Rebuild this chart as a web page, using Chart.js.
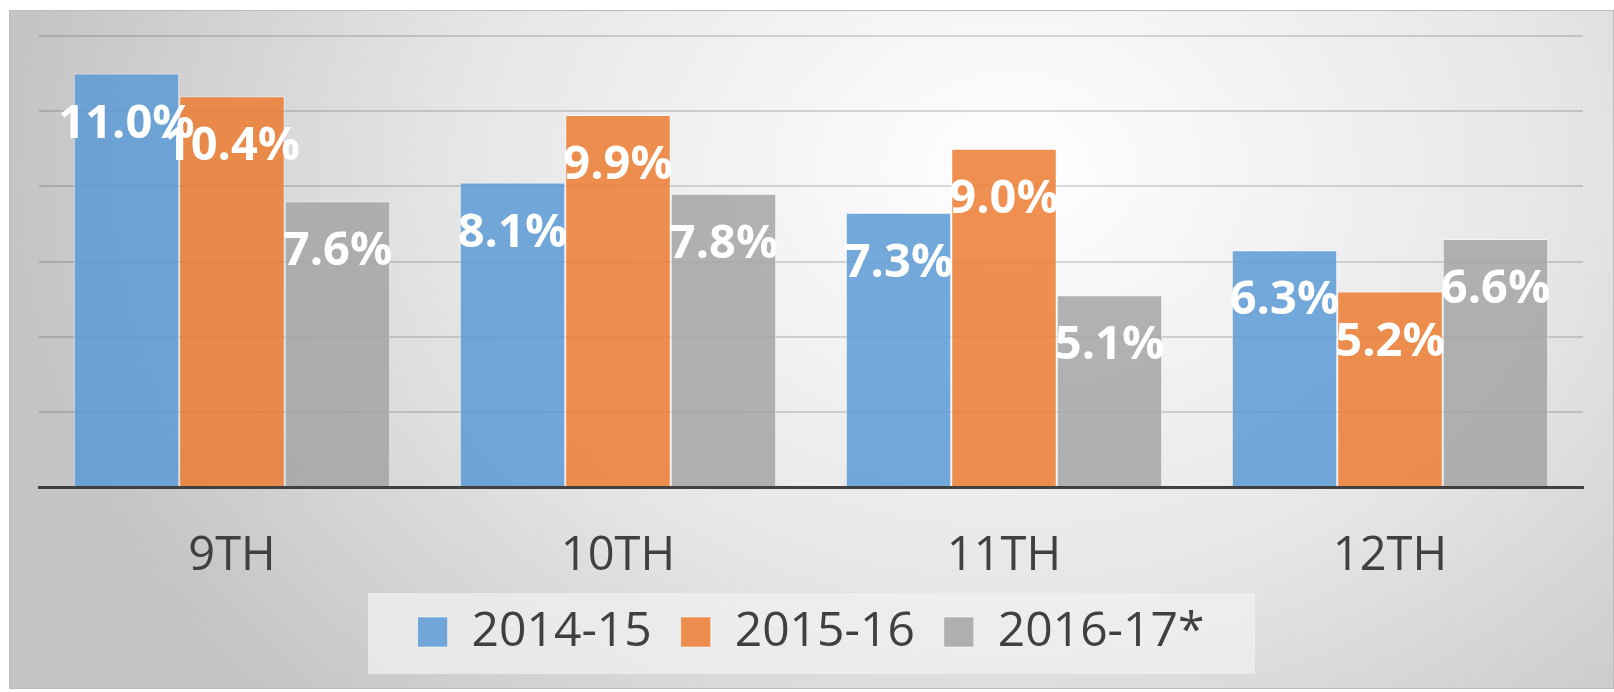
<!DOCTYPE html>
<html>
<head>
<meta charset="utf-8">
<title>Grados</title>
<script src="https://cdn.jsdelivr.net/npm/chart.js@4.4.1/dist/chart.umd.min.js"></script>
<style>
  body { margin: 0; background: #ffffff; }
  #wrap { position: relative; width: 1614px; height: 692px; }
  #fondo {
    position: absolute; left: 9px; top: 10px; width: 1603px; height: 677px;
    border: 1px solid #bcbcbc;
    background: radial-gradient(ellipse 1000px 780px at 1000px 160px, #ffffff 0%, #e6e6e6 55%, #c4c4c4 100%);
  }
  #myChart { position: absolute; left: 0; top: 0; }
</style>
</head>
<body>
<div id="wrap">
  <div id="fondo"></div>
  <canvas id="myChart" width="1614" height="692"></canvas>
</div>
<script>
const grados = ["9TH", "10TH", "11TH", "12TH"];
const periodos = ["2014-15", "2015-16", "2016-17*"];
const valores2014 = [11.0, 8.1, 7.3, 6.3];
const valores2015 = [10.4, 9.9, 9.0, 5.2];
const valores2016 = [7.6, 7.8, 5.1, 6.6];
const ticksY = [0, 2, 4, 6, 8, 10, 12];

document.addEventListener("DOMContentLoaded", () => {
  const chartDom = document.getElementById("myChart");
  const fuente = "'Open Sans', 'Noto Sans', sans-serif";

  // etiquetas blancas dentro de cada barra
  const etiquetasBarras = {
    id: "etiquetasBarras",
    afterDraw(chart) {
      const ctx = chart.ctx;
      ctx.save();
      ctx.font = "bold 47px " + fuente;
      ctx.fillStyle = "#ffffff";
      ctx.textAlign = "center";
      ctx.textBaseline = "alphabetic";
      chart.data.datasets.forEach((ds, i) => {
        chart.getDatasetMeta(i).data.forEach((bar, j) => {
          ctx.fillText(ds.data[j].toFixed(1) + "%", bar.x, bar.y + 64);
        });
      });
      ctx.restore();
    },
  };

  // caja clara detras de la leyenda
  const fondoLeyenda = {
    id: "fondoLeyenda",
    beforeDraw(chart) {
      const cajas = chart.legend.legendHitBoxes;
      if (!cajas || !cajas.length) return;
      const medio = cajas[0].top + cajas[0].height / 2;
      const centro = (chart.chartArea.left + chart.chartArea.right) / 2;
      const ctx = chart.ctx;
      ctx.save();
      ctx.fillStyle = "rgba(240, 240, 240, 0.75)";
      ctx.fillRect(centro - 443, medio - 39, 887, 81);
      ctx.restore();
    },
  };

  const datasets = [
    { label: periodos[0], data: valores2014, backgroundColor: "rgba(91, 155, 213, 0.85)" },
    { label: periodos[1], data: valores2015, backgroundColor: "rgba(237, 125, 49, 0.85)" },
    { label: periodos[2], data: valores2016, backgroundColor: "rgba(165, 165, 165, 0.85)" },
  ].map((d) => ({
    ...d,
    borderColor: "rgba(255, 255, 255, 0.55)",
    borderWidth: 1,
    barPercentage: 1.0,
    categoryPercentage: 0.82,
  }));

  new Chart(chartDom, {
    type: "bar",
    data: { labels: grados, datasets: datasets },
    plugins: [fondoLeyenda, etiquetasBarras],
    options: {
      responsive: false,
      animation: false,
      layout: { padding: { left: 39, right: 31, top: 36, bottom: 26 } },
      plugins: {
        tooltip: { enabled: false },
        legend: {
          position: "bottom",
          labels: {
            font: { family: fuente, size: 48 },
            color: "#404040",
            boxWidth: 30,
            boxHeight: 30,
            padding: 29,
          },
        },
      },
      scales: {
        x: {
          z: 1,
          grid: { display: false, drawTicks: false },
          border: { display: true, color: "#404040", width: 3 },
          ticks: { font: { family: fuente, size: 47 }, color: "#404040", padding: 41 },
          afterFit: (scale) => {
            scale.height = 92;
          },
        },
        y: {
          z: 1,
          min: ticksY[0],
          max: ticksY[ticksY.length - 1],
          afterBuildTicks: (scale) => {
            scale.ticks = ticksY.map((v) => ({ value: v }));
          },
          grid: { color: "rgba(0, 0, 0, 0.14)", lineWidth: 2, drawTicks: false },
          border: { display: false },
          ticks: { display: false },
        },
      },
    },
  });
});
</script>
</body>
</html>
